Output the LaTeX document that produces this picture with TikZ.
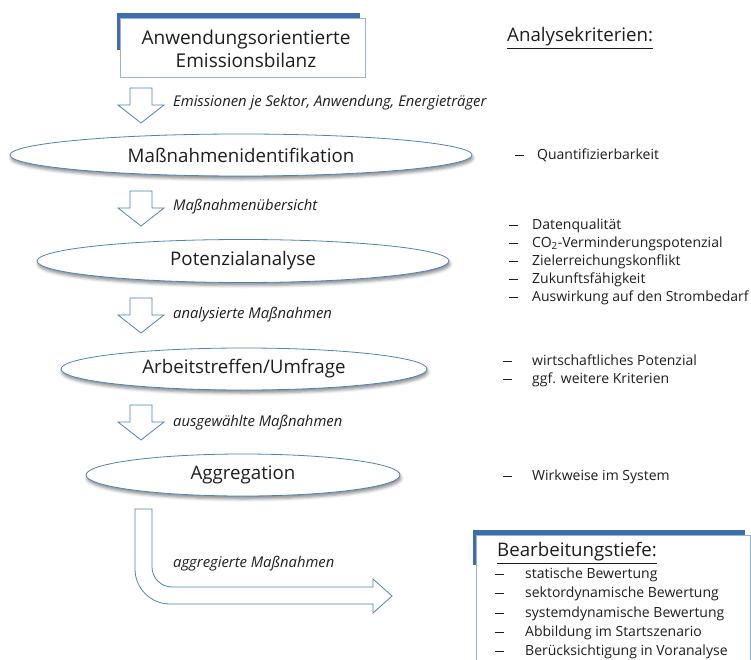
\documentclass[tikz,border=0pt]{standalone}
\usepackage{fontspec}
\setmainfont{Open Sans}
\usetikzlibrary{shapes.geometric,shadows.blur}

\definecolor{barblue}{RGB}{62,108,172}
\definecolor{lineblue}{RGB}{79,129,189}
\definecolor{paleblue}{RGB}{150,180,215}
\definecolor{textgray}{RGB}{30,30,30}

\newcommand{\critdash}{\rule[3.6pt]{9pt}{0.6pt}}

\tikzset{
  stage/.style={ellipse, draw=lineblue, thick, fill=white, inner sep=0pt,
    text=textgray, font=\fontsize{18.7}{20}\selectfont,
    blur shadow={shadow xshift=1pt, shadow yshift=-3pt, shadow opacity=45, shadow blur radius=3pt}},
  flowlabel/.style={anchor=west, text=textgray, font=\fontsize{14.8}{16}\selectfont\itshape, inner sep=0pt},
  crit/.style={anchor=west, text=textgray, font=\fontsize{14}{16}\selectfont, inner sep=0pt,
    text height=10.5pt, text depth=3.5pt},
  heading/.style={anchor=west, text=textgray, font=\fontsize{18.7}{20}\selectfont, inner sep=0pt},
  arrowline/.style={draw=lineblue, fill=white, line width=0.8pt, line join=miter},
  blockdown/.pic={\path[arrowline] (-11,0) -- (11,0) -- (11,17) -- (23,17) -- (0,35) -- (-23,17) -- (-11,17) -- cycle;}
}

\begin{document}
\begin{tikzpicture}[x=1pt, y=-1pt]
    \useasboundingbox (0,0) rectangle (751,660);
    \clip (0,0) rectangle (751,660);

    % source box
    \fill[barblue] (117,13) rectangle (360,50);
    \draw[paleblue, fill=white, line width=0.8pt] (120,18) rectangle (365,77);
    \node[text=textgray, align=center, font=\fontsize{19}{23}\selectfont] (bilanz) at (246,49) {Anwendungsorientierte\\Emissionsbilanz};

    % stages
    \node[stage, minimum width=462, minimum height=42] (ident) at (241,155) {Maßnahmenidentifikation};
    \node[stage, minimum width=412, minimum height=43] (potenzial) at (243,261) {Potenzialanalyse};
    \node[stage, minimum width=366, minimum height=42] (umfrage) at (244,369) {Arbeitstreffen/Umfrage};
    \node[stage, minimum width=314, minimum height=42] (aggr) at (243,475) {Aggregation};

    % block arrows between the stages
    \pic (arrA) at (141,88) {blockdown};
    \pic (arrB) at (141,191) {blockdown};
    \pic (arrC) at (141,298) {blockdown};
    \pic (arrD) at (141,405) {blockdown};
    \node[flowlabel] (labA) at (173,103) {Emissionen je Sektor, Anwendung, Energieträger};
    \node[flowlabel] (labB) at (173,207) {Maßnahmenübersicht};
    \node[flowlabel] (labC) at (173,315) {analysierte Maßnahmen};
    \node[flowlabel] (labD) at (173,423) {ausgewählte Maßnahmen};

    % bent arrow
    \path[arrowline] (135,509) -- (135,569) arc[start angle=180, end angle=90, radius=35]
        -- (373,604) -- (373,613) -- (392,596) -- (373,579) -- (373,587) -- (172,587)
        arc[start angle=90, end angle=180, radius=20] -- (152,509) -- cycle;
    \node[flowlabel] (labE) at (173,564) {aggregierte Maßnahmen};

    % criteria
    \node[heading] (krit) at (507,38) {\underline{Analysekriterien:}};
    \node[crit] at (515,156) {\critdash};
    \node[crit] (quant) at (537,156) {Quantifizierbarkeit};
    \foreach \y/\txt in {226/Datenqualität, 244/CO\textsubscript{2}-Verminderungspotenzial,
        262/Zielerreichungskonflikt, 280/Zukunftsfähigkeit, 298/Auswirkung auf den Strombedarf}
      {\node[crit] at (509,\y) {\critdash};
       \node[crit] at (532,\y) {\txt};}
    \foreach \y/\txt in {362/wirtschaftliches Potenzial, 380/ggf. weitere Kriterien, 477/Wirkweise im System}
      {\node[crit] at (503,\y) {\critdash};
       \node[crit] at (532,\y) {\txt};}

    % depth box
    \fill[barblue] (473,530) rectangle (745,565);
    \draw[paleblue, fill=white, line width=0.8pt] (476,535) rectangle (750,670);
    \node[heading] (tiefe) at (497,553) {\underline{Bearbeitungstiefe:}};
    \foreach \y/\txt in {575/statische Bewertung, 594/sektordynamische Bewertung,
        614/systemdynamische Bewertung, 633/Abbildung im Startszenario, 652/Berücksichtigung in Voranalyse}
      {\node[crit] at (495,\y) {\critdash};
       \node[crit] at (525,\y) {\txt};}
\end{tikzpicture}
\end{document}
